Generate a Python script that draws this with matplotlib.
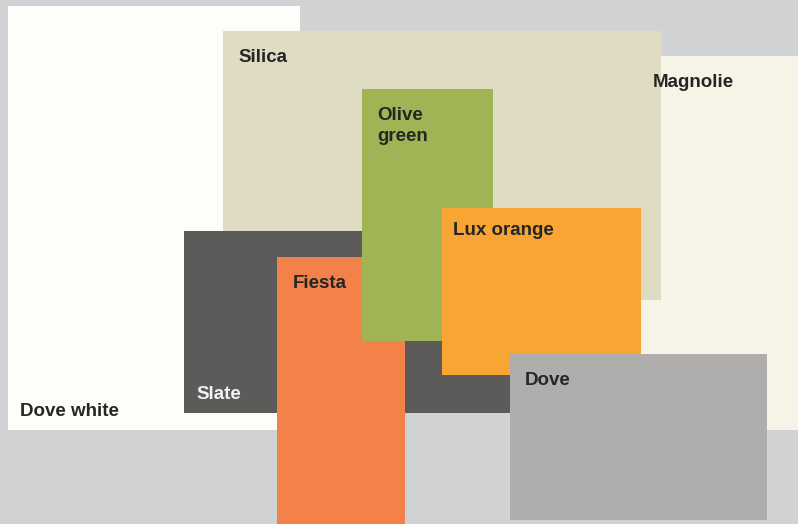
import matplotlib.pyplot as plt
from matplotlib.patches import Rectangle

# swatches, in drawing order (back to front), pixel coords of the 798x524 canvas
names = ["Dove white", "Magnolie", "Silica", "Slate", "Fiesta",
         "Olive\ngreen", "Lux orange", "Dove"]
colors = ["#fdfef9", "#f6f4e6", "#e0dbc3", "#5c5b59", "#f2814a",
          "#a0b355", "#f8a533", "#afaeac"]
left = [8, 560, 223, 184, 277, 362, 442, 510]
top = [6, 56, 31, 231, 257, 89, 208, 354]
right = [300, 798, 661, 520, 405, 493, 641, 767]
bottom = [430, 430, 300, 413, 524, 341, 375, 520]

# label anchor (left x, baseline y of the last line)
label_x = [20, 653, 238, 196, 293, 377, 453, 525]
label_y = [416, 87, 62, 399, 288, 141, 235, 385]
label_color = ["#262626", "#262626", "#262626", "#f2f2f2", "#262626",
               "#262626", "#262626", "#262626"]

fig = plt.figure(figsize=(7.98, 5.24), dpi=100)
fig.patch.set_facecolor("#d1d2d4")
ax = fig.add_axes([0, 0, 1, 1])
ax.set_xlim(0, 798)
ax.set_ylim(524, 0)
ax.axis("off")

for i in range(len(names)):
    ax.add_patch(Rectangle((left[i], top[i]), right[i] - left[i],
                           bottom[i] - top[i], facecolor=colors[i],
                           edgecolor="none", zorder=i + 1))

for i in range(len(names)):
    ax.text(label_x[i], label_y[i], names[i], color=label_color[i],
            fontsize=13.5, fontweight="bold", family="Liberation Sans",
            ha="left", va="baseline", linespacing=1.3, zorder=20)

fig.savefig("out.png", dpi=100, facecolor=fig.get_facecolor())
